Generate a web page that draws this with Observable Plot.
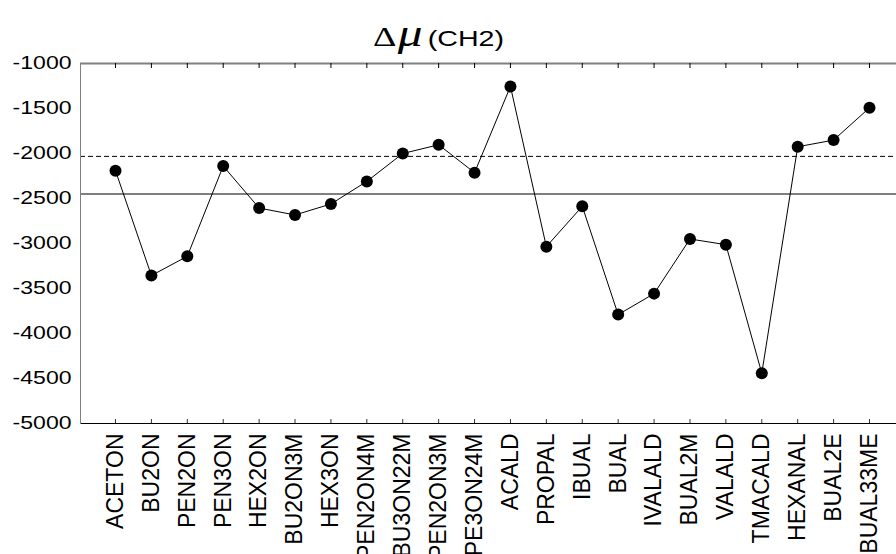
<!DOCTYPE html>
<html><head><meta charset="utf-8">
<script src="https://cdn.jsdelivr.net/npm/d3@7"></script>
<script src="https://cdn.jsdelivr.net/npm/@observablehq/plot@0.6"></script>
<style>
body{margin:0;background:#fff;}
#wrap{position:relative;width:896px;height:554px;}
#title{position:absolute;left:373px;top:14px;white-space:nowrap;transform:scaleX(1.3);transform-origin:0 0;display:flex;align-items:baseline;line-height:1;}
#title .d{font-family:'Liberation Serif',serif;font-size:28px;}
#title .m{font-family:'Liberation Serif',serif;font-style:italic;font-size:38px;margin-left:1px;}
#title .c{font-family:'Liberation Sans',Arial,sans-serif;font-size:22px;margin-left:4px;}
</style></head><body>
<div id="wrap"><div id="title"><span class="d">Δ</span><span class="m">μ</span><span class="c">(CH2)</span></div></div>
<script>
const categories = ["ACETON","BU2ON","PEN2ON","PEN3ON","HEX2ON","BU2ON3M","HEX3ON","PEN2ON4M","BU3ON22M","PEN2ON3M","PE3ON24M","ACALD","PROPAL","IBUAL","BUAL","IVALALD","BUAL2M","VALALD","TMACALD","HEXANAL","BUAL2E","BUAL33ME"];
const values = [-2191,-3356,-3142,-2140,-2606,-2683,-2561,-2310,-2000,-1903,-2213,-1255,-3035,-2587,-3790,-3557,-2950,-3013,-4441,-1925,-1851,-1492];
const dashedLevel = [-2032];
const solidLevel = [-2450];
const yTicks = [-1000,-1500,-2000,-2500,-3000,-3500,-4000,-4500,-5000];
const yDomain = [-5000,-1000];

const data = categories.map((c,i)=>({name:c, value:values[i]}));

const chart = Plot.plot({
  width:896, height:554,
  marginLeft:80, marginRight:0, marginTop:63, marginBottom:131,
  style:{fontFamily:"'Liberation Sans', Arial, sans-serif", background:"#fff", color:"#000", overflow:"visible"},
  x:{type:"point", domain:categories, range:[115,869], padding:0, round:false},
  y:{domain:yDomain},
  marks:[
    Plot.ruleY(dashedLevel,{stroke:"#000", strokeDasharray:"5,3", strokeWidth:1}),
    Plot.ruleY(solidLevel,{stroke:"#555", strokeWidth:1.3}),
    Plot.ruleY([yDomain[1]],{stroke:"#808080", strokeWidth:2}),
    Plot.ruleY([yDomain[0]],{stroke:"#000", strokeWidth:1.2}),
    Plot.frame({anchor:"left", stroke:"#808080"}),
    Plot.tickX(categories,{x:d=>d, insetBottom:355, stroke:"#000"}),
    Plot.tickX(categories,{x:d=>d, insetTop:356, stroke:"#333"}),
    Plot.axisY({ticks:yTicks, tickSize:0, tickPadding:9, tickFormat:d=>String(d), fontSize:18, label:null}),
    Plot.axisX({tickSize:0, tickRotate:-90, tickPadding:10, fontSize:23, label:null}),
    Plot.line(data,{x:"name", y:"value", stroke:"#000", strokeWidth:1}),
    Plot.dot(data,{x:"name", y:"value", r:6, fill:"#000", stroke:"none"})
  ]
});
document.getElementById("wrap").appendChild(chart);
// horizontal stretch of y tick labels, as in the reference
d3.select(chart).selectAll('g[aria-label="y-axis tick label"] text').each(function(){
  const t = d3.select(this);
  let tr = t.attr("transform");
  if (!tr) {
    const x = +t.attr("x")||0, y = +t.attr("y")||0;
    tr = `translate(${x},${y})`; t.attr("x",null).attr("y",null);
  }
  t.attr("transform", tr + " scale(1.28,1)");
});
</script>
</body></html>
